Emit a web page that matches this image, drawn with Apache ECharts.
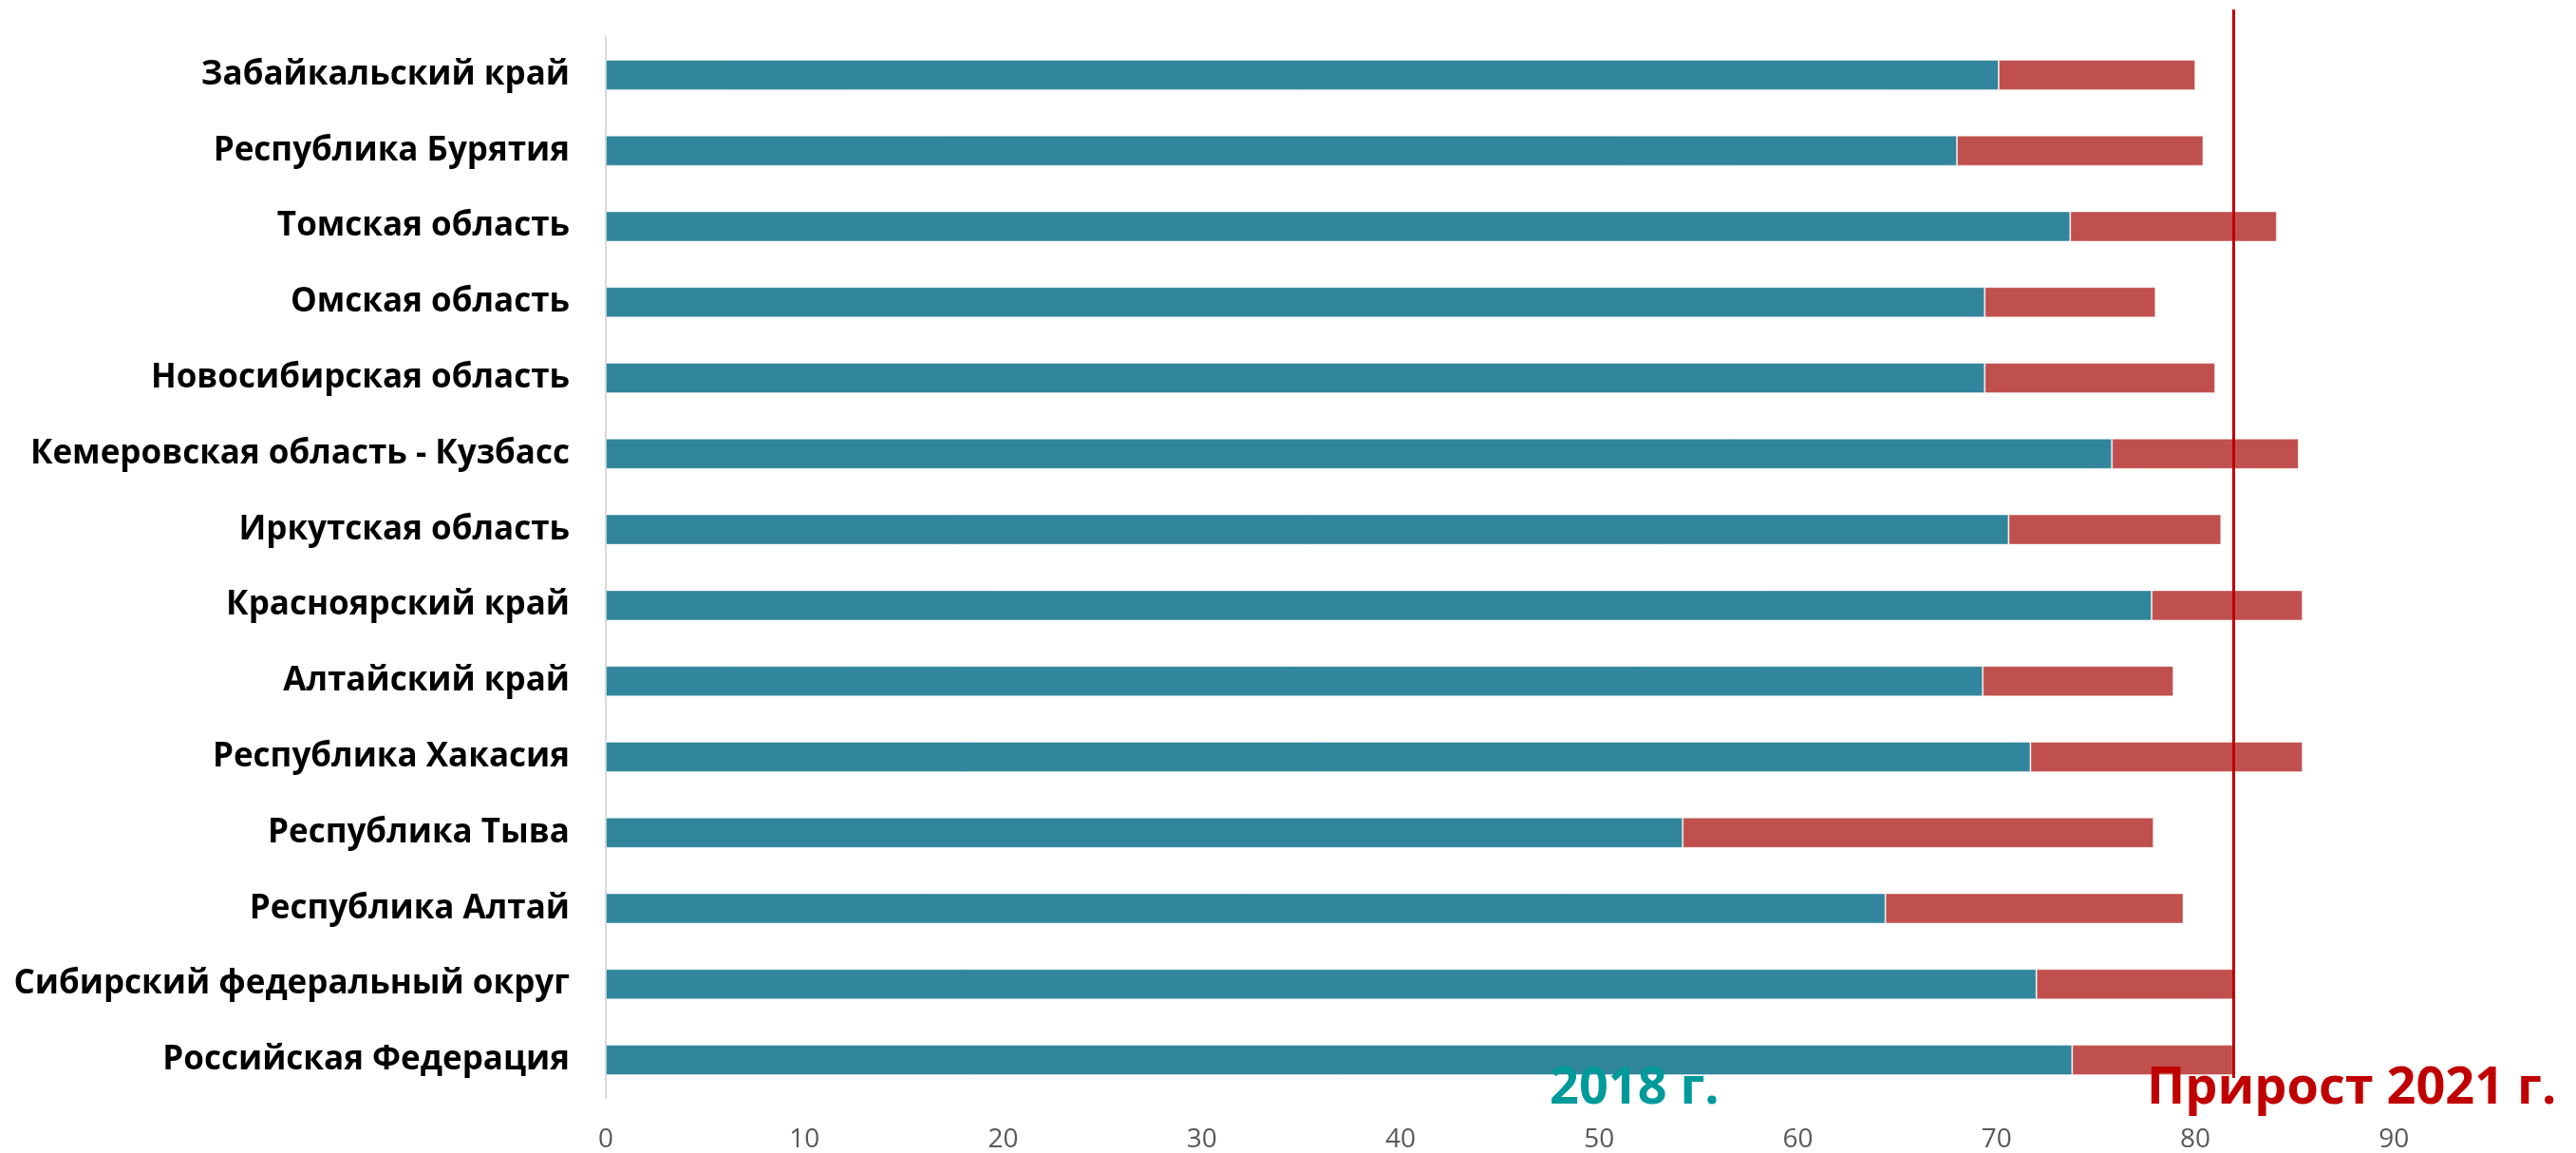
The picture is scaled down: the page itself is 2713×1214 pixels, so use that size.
<!DOCTYPE html>
<html>
<head>
<meta charset="utf-8">
<title>Сибирский федеральный округ</title>
<script src="https://cdn.jsdelivr.net/npm/echarts@6/dist/echarts.min.js"></script>
<style>
  html, body { margin: 0; padding: 0; background: #fff; }
  #main { width: 2713px; height: 1214px; }
</style>
</head>
<body>
<div id="main"></div>
<script>
// регионы сверху вниз
let regions = [
  'Забайкальский край',
  'Республика Бурятия',
  'Томская область',
  'Омская область',
  'Новосибирская область',
  'Кемеровская область - Кузбасс',
  'Иркутская область',
  'Красноярский край',
  'Алтайский край',
  'Республика Хакасия',
  'Республика Тыва',
  'Республика Алтай',
  'Сибирский федеральный округ',
  'Российская Федерация'
];
// значение 2018 г.
let values2018 = [70.1, 68.0, 73.7, 69.4, 69.4, 75.8, 70.6, 77.8, 69.3, 71.7, 54.2, 64.4, 72.0, 73.8];
// прирост к 2021 г.
let growth2021 = [9.9, 12.4, 10.4, 8.6, 11.6, 9.4, 10.7, 7.6, 9.6, 13.7, 23.7, 15.0, 10.0, 8.1];
// вертикальная линия (РФ 2021)
let refLine = 81.9;
let xTicks = { min: 0, max: 95, step: 10 };

let chart = echarts.init(document.getElementById('main'));

let option = {
  animation: false,
  backgroundColor: '#fff',
  grid: {
    left: 638,
    right: 87,
    top: 39,
    bottom: 57
  },
  xAxis: {
    type: 'value',
    min: xTicks.min,
    max: xTicks.max,
    interval: xTicks.step,
    axisLine: { show: false },
    axisTick: { show: false },
    splitLine: { show: false },
    axisLabel: {
      showMaxLabel: false,
      color: '#595959',
      fontSize: 28,
      fontFamily: 'Open Sans',
      margin: 30
    }
  },
  yAxis: {
    type: 'category',
    inverse: true,
    data: regions,
    axisLine: { show: true, lineStyle: { color: '#d9d9d9', width: 2 } },
    axisTick: { show: false },
    axisLabel: {
      color: '#000',
      fontWeight: 'bold',
      fontSize: 35,
      fontFamily: 'Open Sans',
      margin: 38
    }
  },
  series: [
    {
      name: '2018 г.',
      type: 'bar',
      stack: 'total',
      barWidth: 32,
      data: values2018,
      itemStyle: { color: '#31859c', borderColor: 'rgba(255,255,255,0.45)', borderWidth: 1 }
    },
    {
      name: 'Прирост 2021 г.',
      type: 'bar',
      stack: 'total',
      barWidth: 32,
      data: growth2021,
      itemStyle: { color: '#c0504d', borderColor: 'rgba(255,255,255,0.45)', borderWidth: 1 }
    }
  ],
  // подписи как в исходнике (текстовые блоки внизу)
  graphic: [
    {
      type: 'text',
      left: 1632,
      top: 1120,
      z: 100,
      style: {
        text: '2018 г.',
        fill: '#009a9a',
        font: 'bold 54px "Open Sans"'
      }
    },
    {
      type: 'text',
      left: 2261,
      top: 1120,
      z: 100,
      style: {
        text: 'Прирост 2021 г.',
        fill: '#c00000',
        font: 'bold 54px "Open Sans"'
      }
    }
  ]
};
chart.setOption(option);

// красная линия: x берём из шкалы
let px = chart.convertToPixel({ xAxisIndex: 0 }, refLine);
chart.setOption({
  series: [{}, {
    markLine: {
      silent: true,
      symbol: 'none',
      label: { show: false },
      lineStyle: { color: '#c00000', width: 3, type: 'solid' },
      z: 50,
      data: [[{ x: px, y: 10 }, { x: px, y: 1135 }]]
    }
  }]
});
</script>
</body>
</html>
